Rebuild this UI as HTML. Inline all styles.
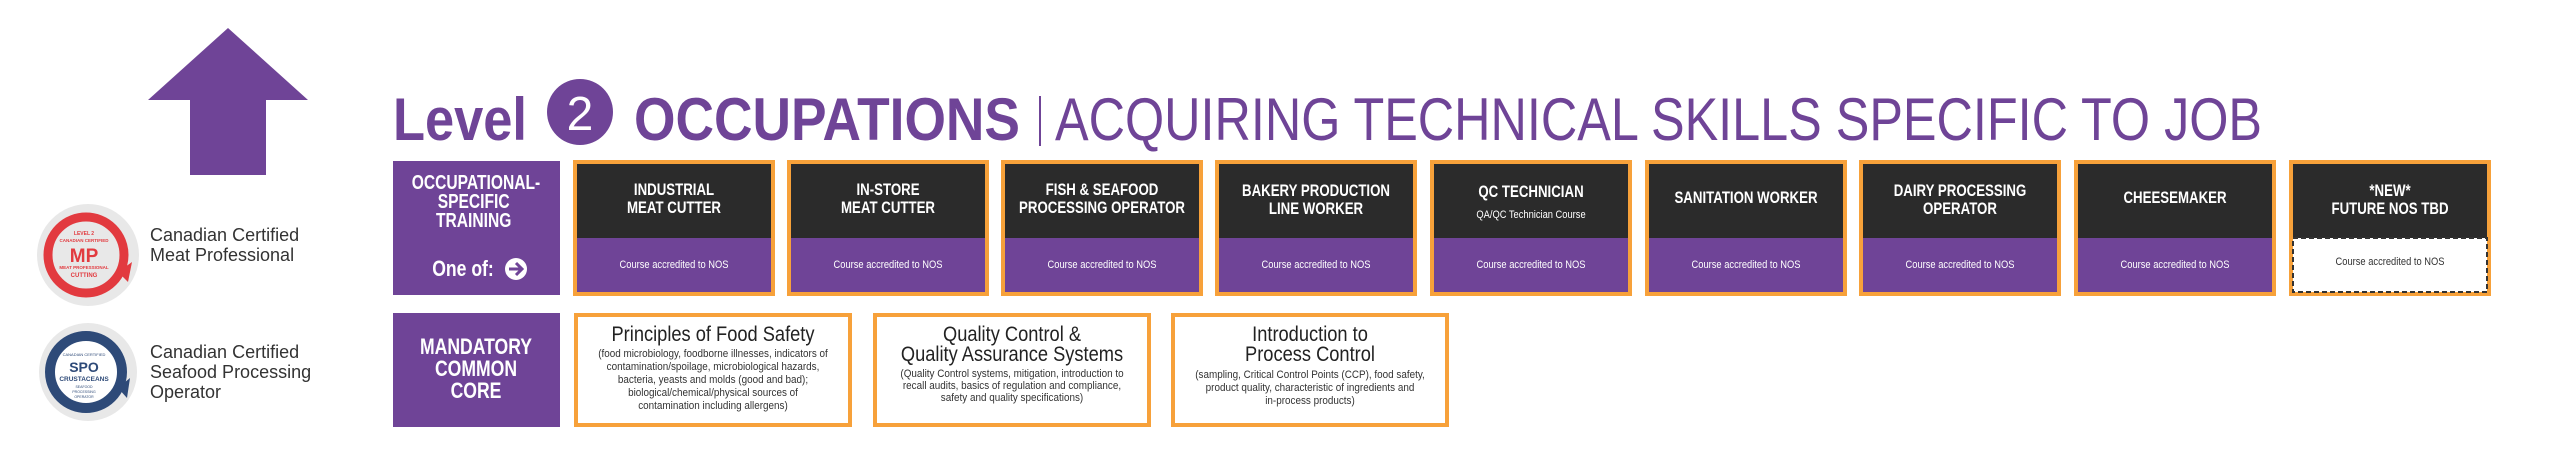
<!DOCTYPE html>
<html><head><meta charset="utf-8"><style>
html,body{margin:0;padding:0;background:#fff;width:2560px;height:457px;overflow:hidden}
svg{display:block}
text{font-family:"Liberation Sans Narrow","Liberation Sans",sans-serif}
</style></head><body>
<svg width="2560" height="457" viewBox="0 0 2560 457" xmlns="http://www.w3.org/2000/svg">
<polygon points="228,28 308,100 266,100 266,175 190,175 190,100 148,100" fill="#6f4497"/>
<!-- MP logo -->
<circle cx="88" cy="255" r="51" fill="#e8e8e8"/>
<circle cx="86" cy="255" r="38" fill="none" stroke="#e23a3f" stroke-width="9"/>
<polygon points="118,272 132,262 128,282" fill="#e23a3f"/>
<text x="84" y="235" font-size="5" font-weight="bold" fill="#e23a3f" text-anchor="middle">LEVEL 2</text>
<text x="84" y="242" font-size="4.5" font-weight="bold" fill="#e23a3f" text-anchor="middle">CANADIAN CERTIFIED</text>
<text x="84" y="262" font-size="19" font-weight="bold" fill="#e23a3f" text-anchor="middle">MP</text>
<text x="84" y="269" font-size="4.5" font-weight="bold" fill="#e23a3f" text-anchor="middle">MEAT PROFESSIONAL</text>
<text x="84" y="277" font-size="6" font-weight="bold" fill="#e23a3f" text-anchor="middle">CUTTING</text>
<text x="124" y="255" font-size="10" fill="#e23a3f" text-anchor="middle">✦</text>
<text x="150" y="241" font-size="18" fill="#333">Canadian Certified</text>
<text x="150" y="261" font-size="18" fill="#333">Meat Professional</text>
<!-- SPO logo -->
<circle cx="88" cy="372" r="49" fill="#e8e8e8"/>
<circle cx="86" cy="372" r="36" fill="#fff" stroke="#2e4a78" stroke-width="10"/>
<polygon points="118,388 130,378 127,398" fill="#2e4a78"/>
<text x="84" y="356" font-size="4" fill="#2e4a78" text-anchor="middle">CANADIAN CERTIFIED</text>
<text x="84" y="372" font-size="14" font-weight="bold" fill="#2e4a78" text-anchor="middle">SPO</text>
<text x="84" y="381" font-size="6.5" font-weight="bold" fill="#2e4a78" text-anchor="middle">CRUSTACEANS</text>
<text x="84" y="388" font-size="3.5" fill="#2e4a78" text-anchor="middle">SEAFOOD</text>
<text x="84" y="393" font-size="3.5" fill="#2e4a78" text-anchor="middle">PROCESSING</text>
<text x="84" y="398" font-size="3.5" fill="#2e4a78" text-anchor="middle">OPERATOR</text>
<text x="122" y="374" font-size="10" fill="#2e4a78" text-anchor="middle">✦</text>
<text x="150" y="358" font-size="18" fill="#333">Canadian Certified</text>
<text x="150" y="378" font-size="18" fill="#333">Seafood Processing</text>
<text x="150" y="398" font-size="18" fill="#333">Operator</text>
<!-- title -->
<text x="393" y="140" font-size="60" font-weight="bold" fill="#6f4497" textLength="134" lengthAdjust="spacingAndGlyphs">Level</text>
<circle cx="580" cy="112" r="33" fill="#6f4497"/>
<text x="580" y="130" font-size="48" fill="#fff" text-anchor="middle">2</text>
<text x="634" y="140" font-size="60" font-weight="bold" fill="#6f4497" textLength="386" lengthAdjust="spacingAndGlyphs">OCCUPATIONS</text>
<rect x="1039" y="96" width="2" height="50" fill="#6f4497"/>
<text x="1055" y="140" font-size="60" fill="#6f4497" textLength="1207" lengthAdjust="spacingAndGlyphs">ACQUIRING TECHNICAL SKILLS SPECIFIC TO JOB</text>
<!-- row 1 label -->
<rect x="393" y="161" width="167" height="134" fill="#6f4497"/>
<g fill="#fff" font-size="20" font-weight="bold" text-anchor="middle" transform="translate(476 0) scale(0.78 1)">
<text x="0" y="189">OCCUPATIONAL-</text>
<text x="-3" y="208">SPECIFIC</text>
<text x="-3" y="227">TRAINING</text>
</g>
<g transform="translate(463 0) scale(0.8 1)"><text x="0" y="276" font-size="22" font-weight="bold" fill="#fff" text-anchor="middle">One of:</text></g>
<circle cx="516" cy="269" r="11" fill="#fff"/>
<path d="M509 269 H521 M516 263 L522 269 L516 275" stroke="#6f4497" stroke-width="3" fill="none"/>
<!-- cards -->
<rect x="575" y="162" width="198" height="132" fill="#2b2b2b" stroke="#f7a13a" stroke-width="4"/>
<rect x="577" y="238" width="194" height="54" fill="#6f4497"/>
<rect x="789" y="162" width="198" height="132" fill="#2b2b2b" stroke="#f7a13a" stroke-width="4"/>
<rect x="791" y="238" width="194" height="54" fill="#6f4497"/>
<rect x="1003" y="162" width="198" height="132" fill="#2b2b2b" stroke="#f7a13a" stroke-width="4"/>
<rect x="1005" y="238" width="194" height="54" fill="#6f4497"/>
<rect x="1217" y="162" width="198" height="132" fill="#2b2b2b" stroke="#f7a13a" stroke-width="4"/>
<rect x="1219" y="238" width="194" height="54" fill="#6f4497"/>
<rect x="1432" y="162" width="198" height="132" fill="#2b2b2b" stroke="#f7a13a" stroke-width="4"/>
<rect x="1434" y="238" width="194" height="54" fill="#6f4497"/>
<rect x="1647" y="162" width="198" height="132" fill="#2b2b2b" stroke="#f7a13a" stroke-width="4"/>
<rect x="1649" y="238" width="194" height="54" fill="#6f4497"/>
<rect x="1861" y="162" width="198" height="132" fill="#2b2b2b" stroke="#f7a13a" stroke-width="4"/>
<rect x="1863" y="238" width="194" height="54" fill="#6f4497"/>
<rect x="2076" y="162" width="198" height="132" fill="#2b2b2b" stroke="#f7a13a" stroke-width="4"/>
<rect x="2078" y="238" width="194" height="54" fill="#6f4497"/>
<rect x="2291" y="162" width="198" height="132" fill="#2b2b2b" stroke="#f7a13a" stroke-width="4"/>
<rect x="2293" y="238" width="194" height="54" fill="#fff" stroke="#333" stroke-width="2" stroke-dasharray="5,3"/>
<g fill="#fff" font-size="17" font-weight="bold" text-anchor="middle">
<g transform="translate(674 0) scale(0.78 1)"><text x="0" y="195">INDUSTRIAL</text><text x="0" y="213">MEAT CUTTER</text></g>
<g transform="translate(888 0) scale(0.78 1)"><text x="0" y="195">IN-STORE</text><text x="0" y="213">MEAT CUTTER</text></g>
<g transform="translate(1102 0) scale(0.78 1)"><text x="0" y="195">FISH &amp; SEAFOOD</text><text x="0" y="213">PROCESSING OPERATOR</text></g>
<g transform="translate(1316 0) scale(0.78 1)"><text x="0" y="196">BAKERY PRODUCTION</text><text x="0" y="214">LINE WORKER</text></g>
<g transform="translate(1531 0) scale(0.78 1)"><text x="0" y="197">QC TECHNICIAN</text></g>
<g transform="translate(1746 0) scale(0.78 1)"><text x="0" y="203">SANITATION WORKER</text></g>
<g transform="translate(1960 0) scale(0.78 1)"><text x="0" y="196">DAIRY PROCESSING</text><text x="0" y="214">OPERATOR</text></g>
<g transform="translate(2175 0) scale(0.78 1)"><text x="0" y="203">CHEESEMAKER</text></g>
<g transform="translate(2390 0) scale(0.78 1)"><text x="0" y="196">*NEW*</text><text x="0" y="214">FUTURE NOS TBD</text></g>
</g>
<g transform="translate(1531 0) scale(0.85 1)"><text x="0" y="218" font-size="11" fill="#fff" text-anchor="middle">QA/QC Technician Course</text></g>
<g fill="#fff" font-size="11" text-anchor="middle">
<g transform="translate(674 0) scale(0.85 1)"><text x="0" y="268">Course accredited to NOS</text></g>
<g transform="translate(888 0) scale(0.85 1)"><text x="0" y="268">Course accredited to NOS</text></g>
<g transform="translate(1102 0) scale(0.85 1)"><text x="0" y="268">Course accredited to NOS</text></g>
<g transform="translate(1316 0) scale(0.85 1)"><text x="0" y="268">Course accredited to NOS</text></g>
<g transform="translate(1531 0) scale(0.85 1)"><text x="0" y="268">Course accredited to NOS</text></g>
<g transform="translate(1746 0) scale(0.85 1)"><text x="0" y="268">Course accredited to NOS</text></g>
<g transform="translate(1960 0) scale(0.85 1)"><text x="0" y="268">Course accredited to NOS</text></g>
<g transform="translate(2175 0) scale(0.85 1)"><text x="0" y="268">Course accredited to NOS</text></g>
</g>
<g transform="translate(2390 0) scale(0.85 1)"><text x="0" y="265" font-size="11" fill="#333" text-anchor="middle">Course accredited to NOS</text></g>
<!-- row 2 -->
<rect x="393" y="313" width="167" height="114" fill="#6f4497"/>
<g fill="#fff" font-size="22" font-weight="bold" text-anchor="middle" transform="translate(476 0) scale(0.8 1)">
<text x="0" y="354">MANDATORY</text>
<text x="0" y="376">COMMON</text>
<text x="0" y="398">CORE</text>
</g>
<rect x="576" y="315" width="274" height="110" fill="#fff" stroke="#f7a13a" stroke-width="4"/>
<rect x="875" y="315" width="274" height="110" fill="#fff" stroke="#f7a13a" stroke-width="4"/>
<rect x="1173" y="315" width="274" height="110" fill="#fff" stroke="#f7a13a" stroke-width="4"/>
<g fill="#222" font-size="21" text-anchor="middle">
<g transform="translate(713 0) scale(0.87 1)"><text x="0" y="341">Principles of Food Safety</text></g>
<g transform="translate(1012 0) scale(0.87 1)"><text x="0" y="341">Quality Control &amp;</text><text x="0" y="361">Quality Assurance Systems</text></g>
<g transform="translate(1310 0) scale(0.87 1)"><text x="0" y="341">Introduction to</text><text x="0" y="361">Process Control</text></g>
</g>
<g fill="#333" font-size="11" text-anchor="middle">
<g transform="translate(713 0) scale(0.9 1)">
<text x="0" y="357">(food microbiology, foodborne illnesses, indicators of</text>
<text x="0" y="370">contamination/spoilage, microbiological hazards,</text>
<text x="0" y="383">bacteria, yeasts and molds (good and bad);</text>
<text x="0" y="396">biological/chemical/physical sources of</text>
<text x="0" y="409">contamination including allergens)</text></g>
<g transform="translate(1012 0) scale(0.9 1)">
<text x="0" y="377">(Quality Control systems, mitigation, introduction to</text>
<text x="0" y="389">recall audits, basics of regulation and compliance,</text>
<text x="0" y="401">safety and quality specifications)</text></g>
<g transform="translate(1310 0) scale(0.9 1)">
<text x="0" y="378">(sampling, Critical Control Points (CCP), food safety,</text>
<text x="0" y="391">product quality, characteristic of ingredients and</text>
<text x="0" y="404">in-process products)</text></g>
</g>
</svg>
</body></html>
